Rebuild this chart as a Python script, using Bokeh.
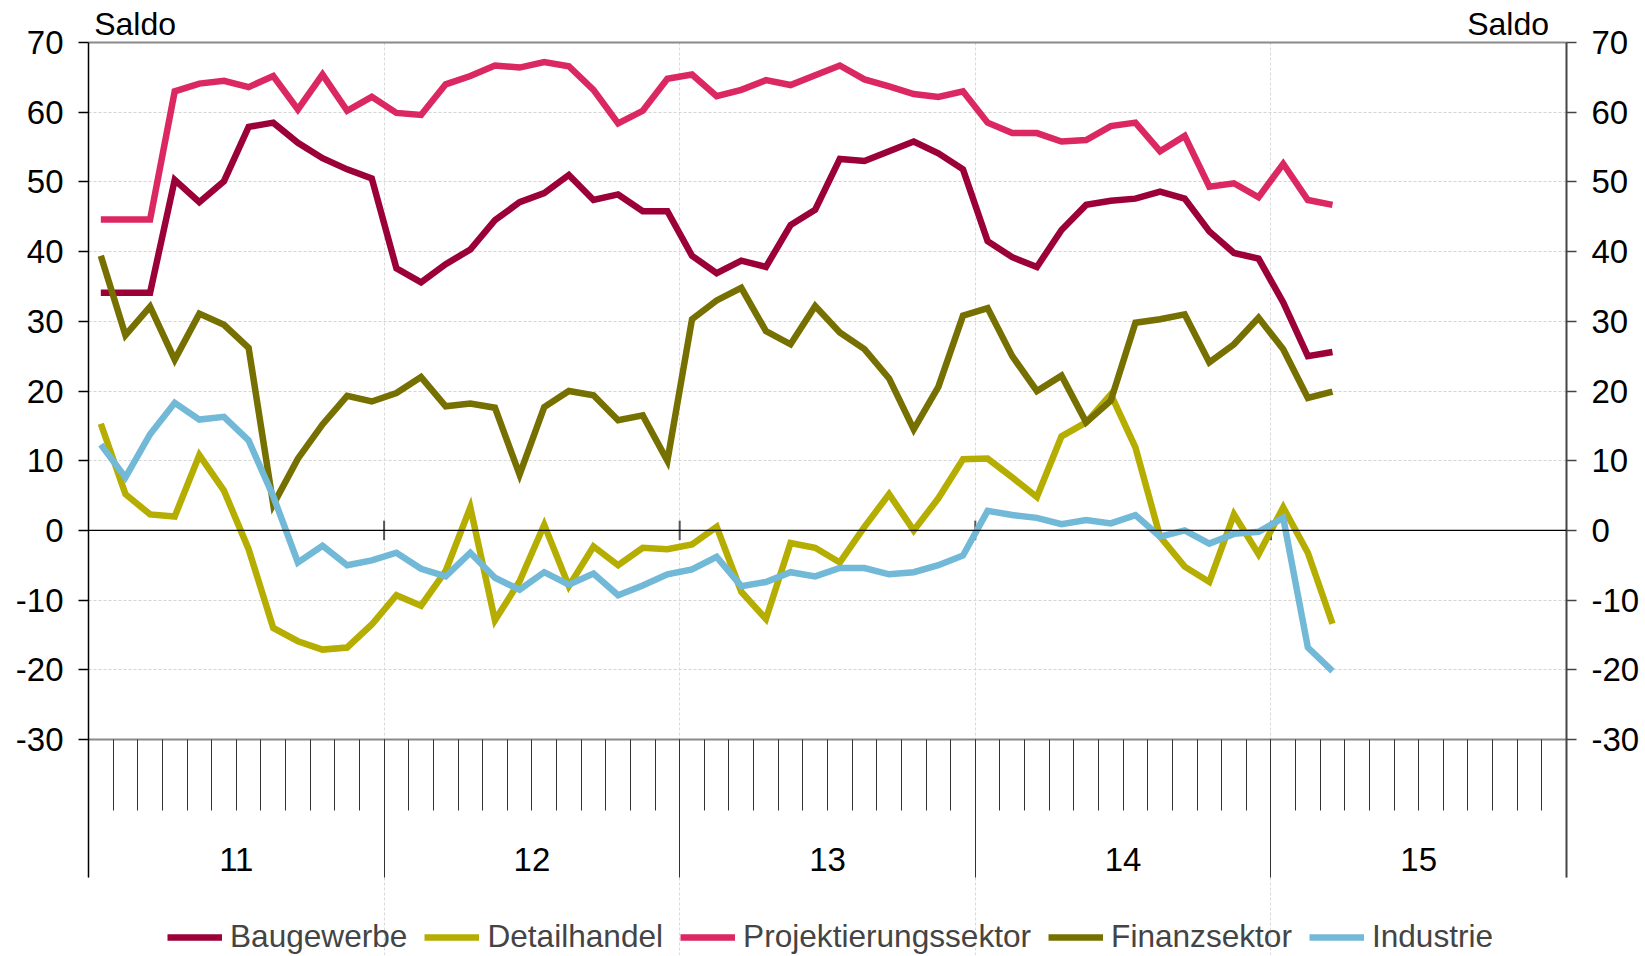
from bokeh.plotting import figure
from bokeh.models import (Range1d, LinearAxis, FixedTicker, Span, Legend,
                          LegendItem, Grid, CustomJSTickFormatter)
from bokeh.embed import file_html
from bokeh.resources import INLINE

# ---------------- data ----------------
years = ["11", "12", "13", "14", "15"]
months_per_year = 12
value_label = "Saldo"

baugewerbe = [34.1, 34.1, 34.1, 50.3, 47.1, 50.1, 57.9, 58.5, 55.6, 53.4, 51.8, 50.5,
              37.6, 35.6, 38.2, 40.3, 44.5, 47.1, 48.4, 51.0, 47.4, 48.2, 45.8, 45.8,
              39.4, 36.9, 38.7, 37.8, 43.8, 46.0, 53.3, 53.0, 54.4, 55.8, 54.1, 51.8,
              41.5, 39.2, 37.8, 43.1, 46.7, 47.3, 47.6, 48.6, 47.6, 42.9, 39.8, 39.0,
              32.7, 25.0, 25.6]
detailhandel = [15.3, 5.2, 2.3, 2.0, 10.8, 5.7, -2.7, -14.0, -15.9, -17.1, -16.8, -13.5,
                -9.3, -10.8, -5.8, 3.3, -12.9, -7.3, 0.8, -8.0, -2.3, -5.0, -2.5, -2.7,
                -2.0, 0.5, -8.8, -12.7, -1.8, -2.5, -4.6, 0.5, 5.2, 0.0, 4.6, 10.2,
                10.3, 7.6, 4.8, 13.5, 15.5, 19.5, 11.9, -0.9, -5.2, -7.4, 2.3, -3.4,
                3.3, -3.2, -13.4]
projektierung = [44.6, 44.6, 44.6, 63.0, 64.1, 64.5, 63.6, 65.2, 60.4, 65.4, 60.2, 62.2,
                 59.9, 59.6, 64.0, 65.2, 66.7, 66.4, 67.2, 66.6, 63.2, 58.4, 60.2, 64.8,
                 65.4, 62.3, 63.2, 64.6, 63.9, 65.3, 66.7, 64.7, 63.7, 62.6, 62.2, 63.0,
                 58.5, 57.0, 57.0, 55.8, 56.0, 58.0, 58.5, 54.4, 56.6, 49.3, 49.8, 47.8,
                 52.6, 47.4, 46.7]
finanz = [39.4, 28.0, 32.1, 24.5, 31.1, 29.5, 26.2, 3.7, 10.3, 15.2, 19.3, 18.5,
          19.7, 22.0, 17.8, 18.2, 17.6, 8.0, 17.7, 20.0, 19.4, 15.8, 16.5, 10.0,
          30.3, 33.0, 34.8, 28.6, 26.7, 32.2, 28.4, 26.0, 21.8, 14.5, 20.6, 30.8,
          31.9, 25.0, 20.0, 22.2, 15.5, 18.6, 29.8, 30.3, 31.0, 24.1, 26.7, 30.5,
          26.0, 19.0, 19.9]
industrie = [12.3, 7.6, 13.8, 18.3, 15.9, 16.3, 12.9, 4.9, -4.6, -2.2, -5.0, -4.3,
             -3.2, -5.5, -6.6, -3.2, -6.8, -8.5, -6.0, -7.8, -6.2, -9.3, -7.9, -6.3,
             -5.6, -3.8, -8.0, -7.4, -6.0, -6.6, -5.4, -5.4, -6.3, -6.0, -5.0, -3.6,
             2.8, 2.2, 1.8, 0.9, 1.5, 1.0, 2.2, -0.9, 0.0, -1.9, -0.5, -0.2,
             1.8, -16.8, -20.2]

series_names = ["Baugewerbe", "Detailhandel", "Projektierungssektor", "Finanzsektor", "Industrie"]
series_values = [baugewerbe, detailhandel, projektierung, finanz, industrie]
series_colors = ["#9B0038", "#B5AD00", "#DB2762", "#767000", "#72B9D7"]

y_ticks = list(range(-30, 71, 10))

# ---------------- layout constants (pixels) ----------------
FONT = "Liberation Sans"
PLOT_H = 697        # height of the -30..70 value band
TICK_ZONE = 138     # month/year tick zone below the value band
LEGEND_ZONE = 78    # room for the legend below the tick zone
LABEL_TOP = 108     # from the -30 line to the top of the year label box

n_total = len(years) * months_per_year
month_pos = [i + 0.5 for i in range(len(baugewerbe))]
Y0, Y1 = y_ticks[0], y_ticks[-1]
px = PLOT_H / (Y1 - Y0)
frame_h = PLOT_H + TICK_ZONE + LEGEND_ZONE
y_start = Y1 - frame_h / px
y_tick_bottom = Y0 - TICK_ZONE / px

p = figure(frame_width=1478, frame_height=frame_h,
           x_range=Range1d(0, n_total), y_range=Range1d(y_start, Y1),
           x_axis_location=None, y_axis_location=None,
           output_backend="svg", toolbar_location=None,
           min_border_left=88, min_border_right=77, min_border_top=42,
           min_border_bottom=0, background_fill_color="white",
           border_fill_color="white")
p.center = [r for r in p.center if not isinstance(r, Grid)]
p.outline_line_color = None

bounds = [k * months_per_year for k in range(len(years) + 1)]

# grids (only inside the value band)
p.add_layout(Grid(dimension=1, ticker=FixedTicker(ticks=y_ticks[1:-1]),
                  grid_line_color="#d4d4d4", grid_line_dash="3 2", grid_line_width=1))
p.add_layout(Grid(dimension=0, ticker=FixedTicker(ticks=bounds[1:-1]), bounds=(Y0, Y1),
                  grid_line_color="#dadada", grid_line_dash="3 2", grid_line_width=1))

int_fmt = CustomJSTickFormatter(code="return tick.toFixed(0);")

def y_axis(line_color, line_width):
    return LinearAxis(ticker=FixedTicker(ticks=y_ticks, minor_ticks=[]),
                      formatter=int_fmt, bounds=(y_tick_bottom, Y1),
                      major_tick_out=10, major_tick_in=0,
                      major_label_standoff=15,
                      axis_line_color=line_color, axis_line_width=line_width,
                      major_tick_line_color=line_color, major_tick_line_width=1.5,
                      major_label_text_font=FONT,
                      major_label_text_font_size="33px",
                      major_label_text_color="black")

p.add_layout(y_axis("black", 1.5), "left")
p.add_layout(y_axis("#444444", 2), "right")

# top edge + "Saldo" captions above both value axes
saldo_axis = LinearAxis(ticker=FixedTicker(ticks=[1.89, n_total - 2.37], minor_ticks=[]),
                        formatter=CustomJSTickFormatter(args=dict(t=value_label), code="return t;"),
                        axis_line_color="#8a8a8a", axis_line_width=2,
                        major_tick_line_color=None,
                        major_tick_out=0, major_tick_in=0, major_label_standoff=1,
                        major_label_text_font=FONT, major_label_text_font_size="32px",
                        major_label_text_color="black")
p.add_layout(saldo_axis, "above")

# -30 edge with month ticks and year boundaries hanging below it
tick_axis = LinearAxis(ticker=FixedTicker(ticks=bounds, minor_ticks=list(range(n_total + 1))),
                       formatter=CustomJSTickFormatter(code="return '';"),
                       fixed_location=Y0,
                       major_tick_in=TICK_ZONE, major_tick_out=0,
                       minor_tick_in=71, minor_tick_out=0,
                       major_label_standoff=0, major_label_text_font_size="1px",
                       axis_line_color="#8a8a8a", axis_line_width=2,
                       major_tick_line_color="#333333", minor_tick_line_color="#333333",
                       major_tick_line_width=1, minor_tick_line_width=1)
p.add_layout(tick_axis, "above")

# year labels centred in each year (pulled up into the tick zone)
year_axis = LinearAxis(ticker=FixedTicker(ticks=[k * months_per_year + months_per_year / 2
                                                 for k in range(len(years))], minor_ticks=[]),
                       formatter=CustomJSTickFormatter(args=dict(years=years, m=months_per_year),
                                                       code="return years[Math.floor(tick / m)];"),
                       axis_line_color=None, major_tick_line_color=None,
                       major_tick_out=0, major_tick_in=0,
                       major_label_standoff=-(TICK_ZONE + LEGEND_ZONE - LABEL_TOP),
                       major_label_text_font=FONT, major_label_text_font_size="33px",
                       major_label_text_color="black")
p.add_layout(year_axis, "below")

# zero line and its year marks
p.add_layout(Span(location=0, dimension="width", line_color="black", line_width=1.3))
p.segment(x0=bounds[1:-1], y0=[-1.4] * (len(bounds) - 2),
          x1=bounds[1:-1], y1=[1.4] * (len(bounds) - 2),
          line_color="#555555", line_width=2)

# series
renderers = []
for name, vals, col in zip(series_names, series_values, series_colors):
    r = p.line(month_pos, vals, line_color=col, line_width=6.5, line_join="miter")
    renderers.append(r)

# legend (inside the bottom strip of the frame)
legend = Legend(items=[LegendItem(label=n, renderers=[r]) for n, r in zip(series_names, renderers)],
                orientation="horizontal", location=(79, 0),
                label_text_font=FONT, label_text_font_size="31.6px",
                glyph_width=55, glyph_height=20, label_standoff=8, spacing=17,
                padding=0, margin=0, border_line_alpha=0, background_fill_alpha=0)
p.add_layout(legend, "center")

open("out.html", "w").write(file_html(p, INLINE))
